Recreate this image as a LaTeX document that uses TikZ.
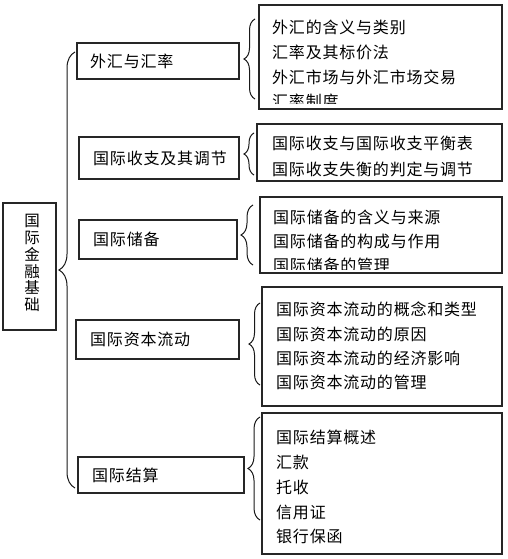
\documentclass[tikz,border=0pt]{standalone}
\usepackage{fontspec}
\newfontfamily\cjk[LetterSpace=5]{Noto Sans CJK SC}
\usetikzlibrary{decorations.pathreplacing}
\tikzset{
  box/.style={draw=black!85, line width=1.1pt, inner sep=0pt, fill=white},
  txt/.style={font=\cjk\fontsize{16}{17}\selectfont, inner sep=0pt, anchor=west, text=black},
  bigbrace/.style={draw=black!90, line width=1pt, decorate, decoration={brace, amplitude=#1}},
}
\begin{document}
\begin{tikzpicture}[x=1pt, y=-1pt]
\useasboundingbox (0,0) rectangle (508,559);

% root
\node[box, minimum width=53pt, minimum height=127pt] (root) at (29.5,266.5) {};
\node[txt, anchor=center, align=center, font=\cjk\fontsize{15.5}{16.8}\selectfont] (roottxt) at (32,263) {国\\际\\金\\融\\基\\础};

% big brace
\draw[bigbrace=16pt] (75,488) -- (75,52);

% level-1 boxes
\node[box, minimum width=162pt, minimum height=36pt] (l1) at (158,61) {};
\node[txt] (l1t) at (90,61) {外汇与汇率};
\node[box, minimum width=160pt, minimum height=42pt] (l2) at (159,158) {};
\node[txt] (l2t) at (93,158) {国际收支及其调节};
\node[box, minimum width=158pt, minimum height=39pt] (l3) at (158,239.5) {};
\node[txt] (l3t) at (93,239.5) {国际储备};
\node[box, minimum width=163pt, minimum height=39pt] (l4) at (157.5,339.5) {};
\node[txt] (l4t) at (90,339.5) {国际资本流动};
\node[box, minimum width=166pt, minimum height=36pt] (l5) at (161,475) {};
\node[txt] (l5t) at (92,475) {国际结算};

% right boxes
\node[box, minimum width=243pt, minimum height=104pt] (ra) at (380.5,57) {};
\begin{scope}
\clip (259,5) rectangle (502,103.5);
\node[txt] (ra1) at (272,27) {外汇的含义与类别};
\node[txt] (ra2) at (272,52) {汇率及其标价法};
\node[txt] (ra3) at (272,77) {外汇市场与外汇市场交易};
\node[txt] (ra4) at (272,101) {汇率制度};
\end{scope}

\node[box, minimum width=245pt, minimum height=57pt] (rb) at (379.5,152.5) {};
\node[txt] (rb1) at (272,143) {国际收支与国际收支平衡表};
\node[txt] (rb2) at (272,169) {国际收支失衡的判定与调节};

\node[box, minimum width=242pt, minimum height=76pt] (rc) at (381,235) {};
\begin{scope}
\clip (260,197) rectangle (502,269);
\node[txt] (rc1) at (273,217) {国际储备的含义与来源};
\node[txt] (rc2) at (273,241) {国际储备的构成与作用};
\node[txt] (rc3) at (273,265) {国际储备的管理};
\end{scope}

\node[box, minimum width=240pt, minimum height=119pt] (rd) at (382,346.5) {};
\node[txt] (rd1) at (276,309) {国际资本流动的概念和类型};
\node[txt] (rd2) at (276,334) {国际资本流动的原因};
\node[txt] (rd3) at (276,358) {国际资本流动的经济影响};
\node[txt] (rd4) at (276,382) {国际资本流动的管理};

\node[box, minimum width=240pt, minimum height=141pt] (re) at (382,483.5) {};
\node[txt] (re1) at (276,437) {国际结算概述};
\node[txt] (re2) at (276,462) {汇款};
\node[txt] (re3) at (276,487) {托收};
\node[txt] (re4) at (276,512) {信用证};
\node[txt] (re5) at (276,536) {银行保函};

% small braces
\draw[bigbrace=11pt] (255,99) -- (255,19);
\draw[bigbrace=10pt] (254,175) -- (254,133);
\draw[bigbrace=12pt] (253,265) -- (253,205);
\draw[bigbrace=11pt] (260,385) -- (260,303);
\draw[bigbrace=12pt] (260,520) -- (260,417);
\end{tikzpicture}
\end{document}
